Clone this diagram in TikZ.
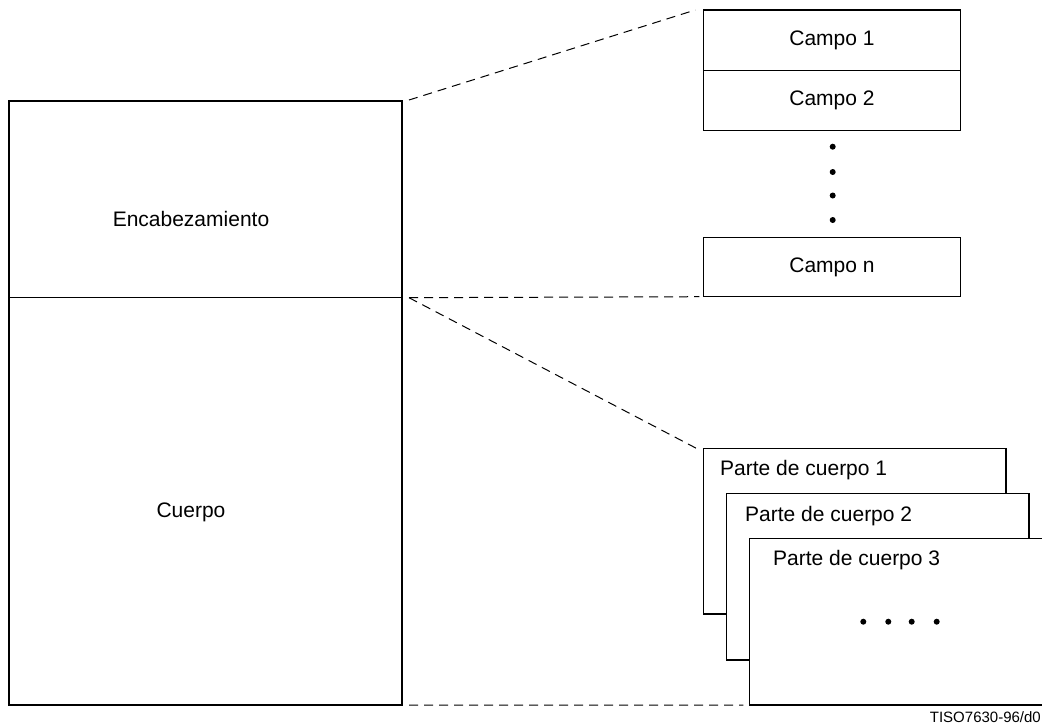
\documentclass[tikz,border=0pt]{standalone}
\usepackage{fontspec}
\setmainfont{Liberation Sans}
\usetikzlibrary{calc}
\begin{document}
\begin{tikzpicture}[x=1pt,y=-1pt,
  box/.style={draw=black,line width=1.4pt,fill=white,inner sep=0pt,outer sep=0pt},
  lbl/.style={font=\fontsize{21}{24}\selectfont,inner sep=0pt},
  dline/.style={draw=black,line width=1pt,dash pattern=on 9pt off 6pt},
  dot/.style={circle,fill=black,inner sep=0pt,minimum size=6pt}]
\useasboundingbox (0,0) rectangle (1042,724);
% left structure
\node[box,minimum width=393pt,minimum height=196.7pt] (hdr) at (205.5,199.35) {};
\node[box,minimum width=393pt,minimum height=407.3pt] (body) at (205.5,501.35) {};
\node[lbl] (hdrt) at (191,219) {Encabezamiento};
\node[lbl] (bodyt) at (191,512) {Cuerpo};
% fields
\node[box,lbl,minimum width=257.4pt,minimum height=60.7pt] (c1) at (832,40.35) {Campo 1};
\node[box,lbl,minimum width=257.4pt,minimum height=60pt] (c2) at (832,100.7) {Campo 2};
\node[box,lbl,minimum width=257.4pt,minimum height=59.4pt] (cn) at (832,267) {Campo n};
\node[dot] (d1) at (832.7,146.7) {};
\node[dot] (d2) at (832.7,172) {};
\node[dot] (d3) at (832.7,195.5) {};
\node[dot] (d4) at (832.7,220) {};
% body parts
\node[box,minimum width=302.7pt,minimum height=165.7pt] (p1) at (854.65,531.15) {};
\node[lbl,anchor=base west] (p1t) at (720,475) {Parte de cuerpo 1};
\node[box,minimum width=302.3pt,minimum height=166.7pt] (p2) at (877.85,576.65) {};
\node[lbl,anchor=base west] (p2t) at (745,521.5) {Parte de cuerpo 2};
\node[box,minimum width=297pt,minimum height=166.7pt] (p3) at (897.8,621.65) {};
\node[lbl,anchor=base west] (p3t) at (773,565) {Parte de cuerpo 3};
\node[dot] (e1) at (863.3,621.7) {};
\node[dot] (e2) at (888.3,621.7) {};
\node[dot] (e3) at (911.7,621.7) {};
\node[dot] (e4) at (936.7,621.7) {};
% dashed connectors
\coordinate (a1) at ($(hdr.north east)+(7,-1)$);
\coordinate (b1) at ($(c1.north west)+(-8,0)$);
\coordinate (a2) at ($(hdr.south east)+(7,0)$);
\coordinate (b2) at ($(cn.south west)+(-4,0)$);
\coordinate (b3) at ($(p1.north west)+(-7,0)$);
\coordinate (a4) at ($(body.south east)+(7,0)$);
\coordinate (b4) at ($(p3.south west)+(-6,0)$);
\draw[dline] (a1) -- (b1);
\draw[dline] (a2) -- (b2);
\draw[dline] (a2) -- (b3);
\draw[dline] (a4) -- (b4);
\node[font=\fontsize{15}{18}\selectfont,anchor=base east,inner sep=0pt] (ref) at (1041,722) {TISO7630-96/d0};
\end{tikzpicture}
\end{document}
